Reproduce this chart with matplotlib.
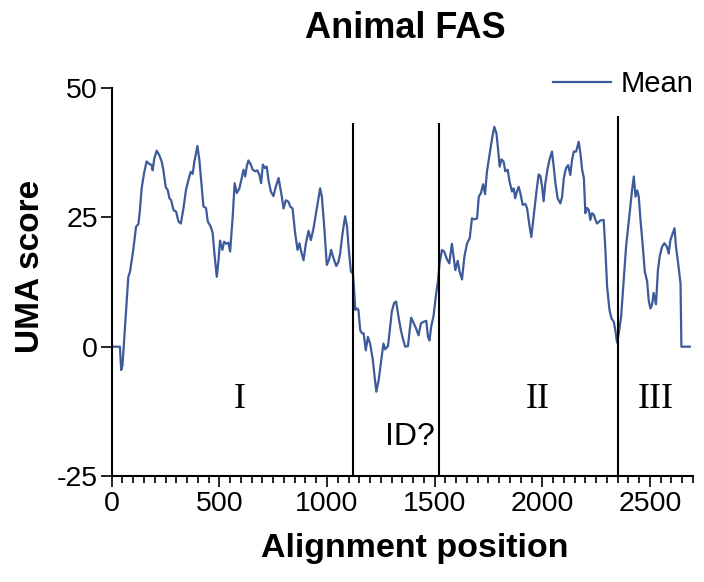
import numpy as np
from matplotlib import pyplot as plt
from matplotlib.ticker import MultipleLocator

plt.rcParams['font.family'] = ['Liberation Sans', 'DejaVu Sans']
plt.rcParams['axes.unicode_minus'] = False

# mean UMA score along the alignment
pos = [0, 38, 44, 50, 77, 85, 100, 113, 124, 131, 139, 150, 162, 175, 186, 190, 198, 209, 221, 232,
       240, 251, 260, 268, 276, 287, 299, 310, 321, 333, 345, 356, 367, 376, 384, 398, 407, 418, 426, 438,
       446, 460, 469, 477, 488, 496, 503, 514, 522, 531, 542, 550, 562, 571, 581, 593, 604, 612, 620, 627,
       635, 646, 655, 666, 676, 686, 694, 702, 712, 720, 728, 739, 751, 762, 775, 782, 790, 798, 809, 821,
       829, 840, 852, 863, 872, 880, 891, 902, 914, 925, 937, 950, 960, 968, 976, 987, 999, 1010, 1019, 1030,
       1043, 1053, 1061, 1072, 1084, 1093, 1100, 1111, 1120, 1125, 1131, 1139, 1146, 1154, 1162, 1170, 1180, 1190, 1200,
       1213, 1221, 1229, 1240, 1250, 1262, 1270, 1283, 1290, 1301, 1312, 1321, 1332, 1343, 1352, 1363, 1376, 1384, 1391,
       1402, 1414, 1425, 1436, 1448, 1461, 1469, 1476, 1484, 1495, 1506, 1515, 1523, 1534, 1544, 1557, 1568, 1580, 1588,
       1596, 1607, 1616, 1627, 1638, 1650, 1663, 1673, 1684, 1697, 1705, 1715, 1725, 1734, 1743, 1756, 1766, 1777, 1787,
       1794, 1802, 1810, 1820, 1828, 1839, 1848, 1859, 1867, 1874, 1882, 1890, 1898, 1909, 1921, 1929, 1940, 1949, 1960,
       1972, 1983, 1991, 1999, 2006, 2014, 2025, 2035, 2045, 2053, 2061, 2071, 2084, 2092, 2100, 2110, 2120, 2130, 2138,
       2146, 2157, 2169, 2177, 2185, 2193, 2200, 2208, 2216, 2223, 2231, 2239, 2247, 2254, 2270, 2285, 2293, 2301, 2312,
       2321, 2332, 2339, 2347, 2355, 2366, 2378, 2389, 2399, 2409, 2417, 2425, 2433, 2441, 2448, 2456, 2467, 2476, 2487,
       2494, 2502, 2510, 2517, 2528, 2537, 2545, 2556, 2567, 2579, 2587, 2595, 2603, 2614, 2621, 2631, 2642, 2646, 2685]
score = [0, 0, -4.5, -3.6, 13.5, 14.5, 18.7, 23.2, 23.7, 26.4, 30.6, 33.5, 35.8, 35.3, 35.1, 34.1, 36.4, 37.9, 37.0, 35.8,
         34.1, 30.8, 30.3, 28.7, 28.3, 26.4, 26.1, 24.2, 23.8, 26.7, 30.3, 32.2, 33.8, 33.4, 35.8, 38.8, 36.1, 31.0, 27.1, 26.8,
         24.2, 23.2, 21.9, 18.0, 13.5, 16.7, 20.5, 18.7, 20.3, 19.9, 20.1, 18.4, 25.2, 31.6, 29.7, 30.6, 32.6, 34.2, 32.9, 34.8,
         36.0, 35.2, 34.2, 33.9, 34.1, 33.2, 31.6, 35.2, 34.5, 34.8, 32.2, 30.0, 29.1, 30.9, 32.6, 30.9, 29.0, 26.7, 28.3, 28.0,
         27.1, 26.7, 21.9, 18.7, 20.0, 18.4, 16.7, 20.0, 22.4, 20.6, 22.8, 26.1, 28.7, 30.6, 29.0, 23.2, 15.8, 16.9, 18.7, 17.1,
         15.6, 16.4, 18.0, 21.9, 25.2, 23.2, 19.3, 14.5, 14.2, 11.6, 7.1, 7.4, 7.1, 3.2, 2.6, 2.6, -0.7, 1.9, 0.6,
         -2.6, -5.8, -8.7, -6.4, -3.2, 0.6, -0.5, 0.1, 2.6, 6.8, 8.5, 8.7, 5.8, 3.2, 1.6, 0.0, 0.1, 3.2, 5.6,
         4.6, 3.5, 2.2, 4.5, 4.8, 5.0, 1.9, 1.2, 3.9, 6.0, 10.0, 12.6, 16.2, 18.7, 18.4, 16.9, 16.1, 19.9, 17.4,
         14.8, 16.6, 14.5, 13.0, 17.4, 19.9, 21.0, 24.8, 24.6, 24.8, 29.0, 29.7, 31.4, 29.5, 33.9, 37.4, 40.1, 42.5, 41.2,
         38.4, 34.8, 36.2, 35.8, 33.9, 34.2, 31.9, 30.0, 30.6, 28.7, 30.0, 30.9, 29.7, 27.4, 27.6, 26.8, 23.5, 21.2, 25.2,
         29.7, 33.3, 33.0, 31.0, 28.1, 31.6, 34.5, 36.4, 37.7, 34.8, 31.6, 28.7, 27.7, 29.0, 32.6, 34.5, 35.1, 33.2, 36.1,
         37.7, 37.7, 39.6, 37.4, 34.2, 32.6, 25.8, 26.8, 26.4, 24.5, 25.8, 25.5, 24.5, 23.8, 24.4, 24.5, 18.7, 11.6, 7.1,
         5.5, 4.8, 3.2, 0.8, 2.6, 5.8, 12.9, 19.3, 23.2, 27.1, 30.3, 32.9, 29.0, 30.2, 29.0, 24.5, 19.3, 14.5, 12.6,
         9.0, 7.4, 8.1, 10.4, 8.2, 14.8, 17.4, 19.3, 20.0, 19.3, 18.0, 20.6, 21.6, 22.9, 19.3, 16.1, 12.2, 0.0, 0.0]

boundaries = [1120, 1520, 2350]
boundary_top = [43.3, 43.3, 44.5]
region_names = ['I', 'ID?', 'II', 'III']
region_x = [596, 1386, 1981, 2525]
region_y = [-10.3, -17.5, -10.3, -10.3]

fig = plt.figure(figsize=(7.04, 5.82), dpi=100)
ax = fig.add_axes([0.1587, 0.1821, 0.8257, 0.6667])

ax.plot(pos, score, color='#3d5a9a', lw=1.6, label='Mean')
ax.vlines(boundaries, -25, boundary_top, color='black', lw=1.5)

for name, x, y in zip(region_names, region_x, region_y):
    if name == 'ID?':
        ax.text(x, y, name, ha='center', va='center', fontsize=23)
    else:
        ax.text(x, y, name, ha='center', va='center', fontsize=26, family=['Liberation Serif', 'DejaVu Serif'])

ax.set_xlim(0, 2700)
ax.set_ylim(-25, 50)
ax.set_yticks([-25, 0, 25, 50])
ax.xaxis.set_major_locator(MultipleLocator(500))
ax.xaxis.set_minor_locator(MultipleLocator(50))

for s in ['top', 'right']:
    ax.spines[s].set_visible(False)
for s in ['left', 'bottom']:
    ax.spines[s].set_linewidth(1.5)

ax.tick_params(which='major', length=8, width=1.2, labelsize=20.5, direction='out')
ax.tick_params(axis='y', pad=2)
ax.tick_params(axis='x', pad=3)
ax.tick_params(which='minor', length=5, width=1.2, direction='out')

ax.legend(loc='center right', bbox_to_anchor=(1.0, 1.01), frameon=False, fontsize=21,
          handlelength=2.0, handletextpad=0.3, borderpad=0, borderaxespad=0)

fig.text(405 / 704, 1 - 28 / 582, 'Animal FAS', ha='center', va='center', fontsize=26, fontweight='bold')
fig.text(415 / 704, 1 - 548 / 582, 'Alignment position', ha='center', va='center', fontsize=24.5, fontweight='bold')
fig.text(31 / 704, 1 - 266 / 582, 'UMA score', ha='center', va='center', rotation=90, fontsize=24, fontweight='bold')

fig.savefig('out.png', dpi=100)
